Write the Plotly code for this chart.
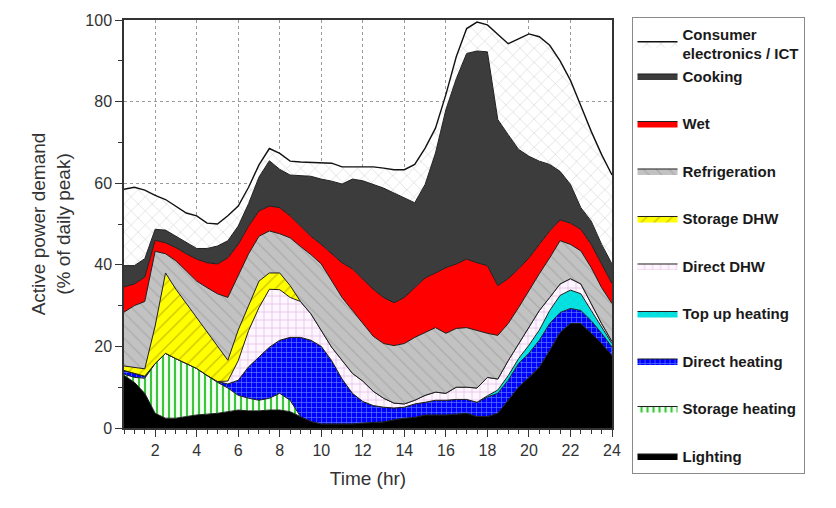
import plotly.graph_objects as go

hours = [0.5, 1, 1.5, 2, 2.5, 3, 3.5, 4, 4.5, 5, 5.5, 6, 6.5, 7, 7.5, 8, 8.5, 9, 9.5, 10,
         10.5, 11, 11.5, 12, 12.5, 13, 13.5, 14, 14.5, 15, 15.5, 16, 16.5, 17, 17.5, 18,
         18.5, 19, 19.5, 20, 20.5, 21, 21.5, 22, 22.5, 23, 23.5, 24]

# Upper boundary (cumulative level, % of daily peak) of each stacked band
top_lighting = [12.9, 11.2, 8.5, 3.6, 2.4, 2.4, 2.8, 3.2, 3.4, 3.6, 4.0, 4.4, 4.2, 4.2, 4.4, 4.4,
                4.0, 2.8, 1.6, 1.0, 1.0, 1.0, 1.0, 1.2, 1.3, 1.5, 2.0, 2.4, 2.6, 3.2, 3.2, 3.2,
                3.4, 3.6, 2.8, 2.8, 3.6, 6.8, 10.0, 12.4, 14.9, 19.0, 23.4, 25.6, 25.6, 23.2, 20.7, 17.8]
top_storage_heating = [13.2, 12.4, 12.2, 15.8, 18.3, 17.0, 15.8, 14.6, 12.9, 11.2, 9.8, 8.0, 7.3, 6.8, 7.3, 8.5,
                       6.8, 2.8, 1.6, 1.0, 1.0, 1.0, 1.0, 1.2, 1.3, 1.5, 2.0, 2.4, 2.6, 3.2, 3.2, 3.2,
                       3.4, 3.6, 2.8, 2.8, 3.6, 6.8, 10.0, 12.4, 14.9, 19.0, 23.4, 25.6, 25.6, 23.2, 20.7, 17.8]
top_direct_heating = [14.1, 13.4, 12.7, 15.8, 18.3, 17.0, 15.8, 14.6, 12.9, 11.4, 10.8, 11.7, 15.0, 17.3, 19.8, 21.5,
                      22.2, 22.2, 21.5, 20.0, 16.5, 12.0, 8.5, 6.5, 5.5, 5.1, 4.9, 5.1, 5.9, 6.3, 6.8, 6.8,
                      7.0, 7.0, 6.3, 7.6, 8.5, 11.7, 15.8, 18.3, 21.5, 25.6, 28.3, 29.3, 28.8, 26.3, 23.2, 19.8]
top_topup_heating = [14.1, 13.4, 12.7, 15.8, 18.3, 17.0, 15.8, 14.6, 12.9, 11.4, 10.8, 11.7, 15.0, 17.3, 19.8, 21.5,
                     22.2, 22.2, 21.5, 20.0, 16.5, 12.0, 8.5, 6.5, 5.5, 5.1, 4.9, 5.1, 5.9, 6.3, 6.8, 6.8,
                     7.0, 7.0, 6.3, 7.9, 9.3, 12.8, 17.0, 20.3, 24.0, 28.8, 32.5, 33.8, 32.9, 28.8, 24.6, 20.7]
top_direct_dhw = [14.1, 13.4, 12.7, 15.8, 18.3, 17.0, 15.8, 14.6, 12.9, 11.4, 11.5, 16.5, 23.9, 29.5, 34.0, 33.9,
                  32.0, 31.0, 28.0, 23.9, 19.8, 16.6, 13.4, 11.5, 9.0, 7.3, 6.1, 5.9, 6.8, 8.0, 8.8, 8.5,
                  10.0, 10.0, 9.8, 12.4, 12.0, 16.5, 20.7, 24.6, 28.8, 32.0, 35.3, 36.6, 35.3, 30.5, 25.6, 21.2]
top_storage_dhw = [15.2, 14.8, 14.5, 25.0, 38.0, 34.0, 30.5, 27.0, 23.4, 20.0, 16.6, 24.0, 30.0, 36.0, 38.0, 38.0,
                   34.9, 31.0, 28.0, 23.9, 19.8, 16.6, 13.4, 11.5, 9.0, 7.3, 6.1, 5.9, 6.8, 8.0, 8.8, 8.5,
                   10.0, 10.0, 9.8, 12.4, 12.0, 16.5, 20.7, 24.6, 28.8, 32.0, 35.3, 36.6, 35.3, 30.5, 25.6, 21.2]
top_refrigeration = [28.4, 30.0, 31.0, 43.3, 42.7, 41.0, 38.5, 36.0, 34.4, 32.9, 32.0, 37.3, 42.7, 47.0, 48.3, 47.6,
                     46.6, 44.5, 42.5, 40.2, 36.0, 32.0, 28.8, 25.5, 22.5, 20.7, 20.2, 20.7, 22.2, 23.4, 24.6, 23.2,
                     24.4, 24.6, 23.9, 23.2, 22.7, 25.6, 29.5, 33.7, 37.8, 41.7, 45.9, 45.0, 43.4, 39.3, 34.4, 30.5]
top_wet = [34.6, 35.3, 37.0, 46.0, 45.4, 44.2, 42.7, 41.4, 40.5, 40.2, 41.7, 45.0, 49.5, 53.2, 54.4, 54.0,
           52.0, 49.5, 47.0, 45.0, 42.7, 40.5, 39.0, 36.5, 34.0, 32.0, 30.7, 32.0, 34.4, 36.8, 38.0, 39.3,
           40.2, 41.4, 40.5, 39.8, 34.9, 36.6, 39.0, 41.7, 45.0, 48.3, 51.0, 50.2, 48.7, 45.0, 40.2, 35.4]
top_cooking = [39.8, 39.8, 41.5, 48.7, 48.5, 47.0, 45.4, 44.0, 44.0, 44.6, 45.9, 49.5, 55.0, 61.5, 65.5, 63.4,
               62.0, 61.9, 61.7, 61.0, 60.5, 59.8, 61.0, 60.6, 59.7, 58.8, 57.6, 56.4, 55.2, 59.7, 67.4, 78.0,
               85.6, 91.8, 92.4, 92.2, 75.6, 71.9, 68.3, 66.6, 65.4, 64.6, 62.9, 59.7, 54.0, 50.7, 45.0, 40.2]
top_consumer_ict = [58.5, 59.0, 58.3, 57.0, 56.0, 54.4, 52.7, 52.0, 50.2, 50.0, 52.0, 54.4, 59.0, 64.5, 68.5, 67.3,
                    65.4, 65.2, 65.1, 65.0, 64.9, 64.0, 64.0, 64.0, 64.0, 63.7, 63.3, 63.3, 64.6, 68.6, 73.5, 81.7,
                    91.0, 97.9, 99.5, 98.8, 96.6, 94.2, 95.4, 96.6, 95.9, 93.8, 90.0, 85.2, 79.0, 72.7, 67.0, 62.0]

names = ["Lighting", "Storage heating", "Direct heating", "Top up heating", "Direct DHW",
         "Storage DHW", "Refrigeration", "Wet", "Cooking", "Consumer<br>electronics / ICT"]
levels = [top_lighting, top_storage_heating, top_direct_heating, top_topup_heating, top_direct_dhw,
          top_storage_dhw, top_refrigeration, top_wet, top_cooking, top_consumer_ict]
groups = ["g0", "g1", "g2", "g3", "g4", "g5", "g6", "g7", "g8", "g8"]

styles = [
    dict(fillcolor="#000000", pattern=None),
    dict(fillcolor="#f0fff0", pattern=dict(shape="|", bgcolor="#f2fff2", fgcolor="#3cc43c", size=6, solidity=0.35)),
    dict(fillcolor="#0000ff", pattern=dict(shape="+", bgcolor="#0000ff", fgcolor="#5a7dff", size=5, solidity=0.25)),
    dict(fillcolor="#00e0e0", pattern=dict(shape="x", bgcolor="#00e4e4", fgcolor="#28c4c4", size=6, solidity=0.2)),
    dict(fillcolor="#fdf4fd", pattern=dict(shape="+", bgcolor="#fef6fe", fgcolor="#e2b0e2", size=8, solidity=0.15)),
    dict(fillcolor="#ffff00", pattern=dict(shape="/", bgcolor="#ffff00", fgcolor="#cfc300", size=9, solidity=0.15)),
    dict(fillcolor="#bdbdbd", pattern=dict(shape="\\", bgcolor="#c2c2c2", fgcolor="#acacac", size=9, solidity=0.15)),
    dict(fillcolor="#ff0000", pattern=None),
    dict(fillcolor="#3c3c3c", pattern=None),
    dict(fillcolor="#ffffff", pattern=dict(shape="x", bgcolor="#ffffff", fgcolor="#cccccc", size=10, solidity=0.1)),
]

fig = go.Figure()
n = len(names)
for i, (nm, lv, st, gr) in enumerate(zip(names, levels, styles, groups)):
    kw = dict(
        x=hours, y=lv, name=nm, mode="lines",
        fill="tozeroy" if i == 0 else "tonexty",
        fillcolor=st["fillcolor"],
        line=dict(color="#1e1e1e" if i != 9 else "#111111", width=1 if i != 9 else 1.4, shape="linear"),
        legendgroup=gr,
        legendrank=n - i,
        hoverinfo="skip",
    )
    if st["pattern"] is not None:
        kw["fillpattern"] = dict(fillmode="replace", **st["pattern"])
    fig.add_trace(go.Scatter(**kw))

axis_font = dict(family="Liberation Sans, Arial, sans-serif", size=16, color="#333333")
fig.update_layout(
    width=836, height=508,
    margin=dict(l=124, r=224, t=18, b=80),
    paper_bgcolor="white", plot_bgcolor="white",
    font=dict(family="Liberation Sans, Arial, sans-serif", color="#333333"),
    showlegend=True,
    legend=dict(
        x=1.04, y=1.008, xanchor="left", yanchor="top",
        traceorder="grouped", tracegroupgap=25, maxheight=500,
        bordercolor="#8a8a8a", borderwidth=1, bgcolor="white",
        font=dict(family="Liberation Sans, Arial, sans-serif", size=15, color="#1a1a1a", weight="bold"),
        itemwidth=40,
    ),
)
fig.update_xaxes(
    range=[0.5, 24], tick0=0, dtick=2, ticks="outside", ticklen=7, tickwidth=1.2, tickcolor="#333",
    showline=True, linecolor="#333", linewidth=1.5, mirror=True,
    showgrid=True, gridcolor="#9a9a9a", griddash="dot", gridwidth=1,
    tickfont=axis_font, zeroline=False,
    minor=dict(dtick=0.5, tick0=0, ticks="outside", ticklen=4, tickcolor="#333", showgrid=False),
    title=dict(text="Time (hr)", font=dict(family="Liberation Sans, Arial, sans-serif", size=19, color="#333"), standoff=14),
)
fig.update_yaxes(
    range=[0, 100], tick0=0, dtick=20, ticks="outside", ticklen=7, tickwidth=1.2, tickcolor="#333",
    showline=True, linecolor="#333", linewidth=1.5, mirror=True,
    showgrid=True, gridcolor="#9a9a9a", griddash="dot", gridwidth=1,
    tickfont=axis_font, zeroline=False,
    minor=dict(dtick=10, tick0=0, ticks="outside", ticklen=4, tickcolor="#333", showgrid=False),
    title=dict(text="Active power demand<br>(% of daily peak)", font=dict(family="Liberation Sans, Arial, sans-serif", size=19, color="#333"), standoff=10),
)

fig.write_html("out.html")
